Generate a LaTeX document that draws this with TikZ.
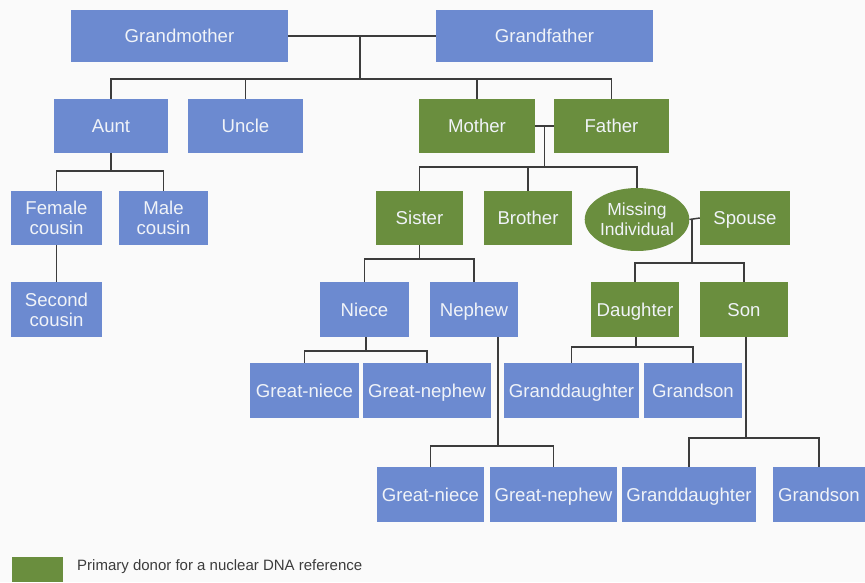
\documentclass[tikz,border=0pt]{standalone}
\usepackage{fontspec}
\setmainfont{Liberation Sans}
\usetikzlibrary{calc,shapes.geometric}
\definecolor{boxblue}{RGB}{108,138,208}
\definecolor{boxgreen}{RGB}{106,142,62}
\definecolor{boxtext}{RGB}{240,243,248}
\definecolor{linkgray}{RGB}{60,60,60}
\definecolor{paper}{RGB}{250,250,250}
\begin{document}
\begin{tikzpicture}[x=1pt,y=-1pt,
  person/.style={rectangle,inner sep=0pt,text=boxtext,align=center,
    font=\fontsize{18.6}{20}\selectfont},
  oneline/.style={text height=15.5pt,text depth=2.5pt},
  relbox/.style={person,fill=boxblue},
  donbox/.style={person,fill=boxgreen},
  relative/.style={relbox,oneline},
  donor/.style={donbox,oneline},
  hh/.style={minimum height=54pt},
  link/.style={draw=linkgray,line width=1.5pt}]
% page
\fill[paper] (0,0) rectangle (865,582);
\useasboundingbox (0,0) rectangle (865,582);

% grandparents
\node[relative,minimum width=217pt,minimum height=52pt] (gm) at (179.5,36) {Grandmother};
\node[relative,minimum width=217pt,minimum height=52pt] (gf) at (544.5,36) {Grandfather};

% second row
\node[relative,hh,minimum width=114pt] (aunt)   at (111,126)   {Aunt};
\node[relative,hh,minimum width=115pt] (uncle)  at (245.5,126) {Uncle};
\node[donor,hh,minimum width=116pt]    (mother) at (477,126)   {Mother};
\node[donor,hh,minimum width=115pt]    (father) at (611.5,126) {Father};

% third row
\node[relbox,hh,minimum width=91pt] (fcous)  at (56.5,218)  {Female\\cousin};
\node[relbox,hh,minimum width=89pt] (mcous)  at (163.5,218) {Male\\cousin};
\node[donor,hh,minimum width=87pt]    (sister) at (419.5,218) {Sister};
\node[donor,hh,minimum width=88pt]    (brother) at (528,218)  {Brother};
\node[donbox,ellipse,minimum width=102pt,minimum height=63pt,
      font=\fontsize{17.5}{20}\selectfont] (missing) at (637,219.5) {Missing\\Individual};
\node[donor,hh,minimum width=90pt]    (spouse) at (745,218)   {Spouse};

% fourth row
\node[relbox,minimum height=55pt,minimum width=91pt] (scous)    at (56.5,309.5) {Second\\cousin};
\node[relative,minimum height=55pt,minimum width=89pt] (niece)    at (364.5,309.5) {Niece};
\node[relative,minimum height=55pt,minimum width=88pt] (nephew)   at (474,309.5)   {Nephew};
\node[donor,minimum height=55pt,minimum width=88pt]    (daughter) at (635,309.5)   {Daughter};
\node[donor,minimum height=55pt,minimum width=88pt]    (son)      at (744,309.5)   {Son};

% fifth row
\node[relative,minimum height=55pt,minimum width=109pt] (gniece1)   at (304.5,390.5) {Great-niece};
\node[relative,minimum height=55pt,minimum width=128pt] (gnephew1)  at (427,390.5)   {Great-nephew};
\node[relative,minimum height=55pt,minimum width=135pt] (gdaughter1) at (571.5,390.5) {Granddaughter};
\node[relative,minimum height=55pt,minimum width=98pt]  (gson1)     at (693,390.5)   {Grandson};

% sixth row
\node[relative,minimum height=55pt,minimum width=107pt] (gniece2)   at (430.5,494.5) {Great-niece};
\node[relative,minimum height=55pt,minimum width=127pt] (gnephew2)  at (553.5,494.5) {Great-nephew};
\node[relative,minimum height=55pt,minimum width=134pt] (gdaughter2) at (689,494.5)  {Granddaughter};
\node[relative,minimum height=55pt,minimum width=92pt]  (gson2)     at (819,494.5)   {Grandson};

% junction points of the family lines
\coordinate (b1) at (360,79);
\coordinate (b2) at (544.5,167);
\coordinate (b3) at (692,263);
\coordinate (b4) at (419.5,259);
\coordinate (b5) at (366,351);
\coordinate (b6) at (498,446);
\coordinate (b7) at (636,347);
\coordinate (b8) at (746,438);
\coordinate (b9) at (112,171);

% grandparents and their children
\draw[link] (gm.east) -- (gf.west);
\draw[link] (b1 |- gm.east) -- (b1);
\draw[link] (aunt.north) |- (b1) -| (father.north);
\draw[link] (uncle.north) -- (uncle.north |- b1);
\draw[link] (mother.north) -- (mother.north |- b1);

% aunt's line
\draw[link] (aunt.south) -- (aunt.south |- b9);
\draw[link] (fcous.north) |- (b9) -| (mcous.north);
\draw[link] (fcous.south) -- (scous.north);

% parents and their children
\draw[link] (mother.east) -- (father.west);
\draw[link] (b2 |- mother.east) -- (b2);
\draw[link] (sister.north) |- (b2) -| (missing.north);
\draw[link] (brother.north) -- (brother.north |- b2);

% sister's line
\draw[link] (sister.south) -- (b4);
\draw[link] (niece.north) |- (b4) -| (nephew.north);
\draw[link] (niece.south -| b5) -- (b5);
\draw[link] (gniece1.north) |- (b5) -| (gnephew1.north);
\draw[link] (nephew.south -| b6) -- (b6);
\draw[link] (gniece2.north) |- (b6) -| (gnephew2.north);

% missing individual and spouse
\draw[link] (missing.east) -- (spouse.west);
\draw[link] (b3 |- missing.east) -- (b3);
\draw[link] (daughter.north) |- (b3) -| (son.north);
\draw[link] (daughter.south -| b7) -- (b7);
\draw[link] (gdaughter1.north) |- (b7) -| (gson1.north);
\draw[link] (son.south -| b8) -- (b8);
\draw[link] (gdaughter2.north) |- (b8) -| (gson2.north);

% legend
\fill[boxgreen] (12,557) rectangle (63,582);
\node[anchor=base west,inner sep=0pt,text=linkgray,font=\fontsize{15}{17}\selectfont]
  (legend) at (77,570) {Primary donor for a nuclear DNA reference};
\end{tikzpicture}
\end{document}
